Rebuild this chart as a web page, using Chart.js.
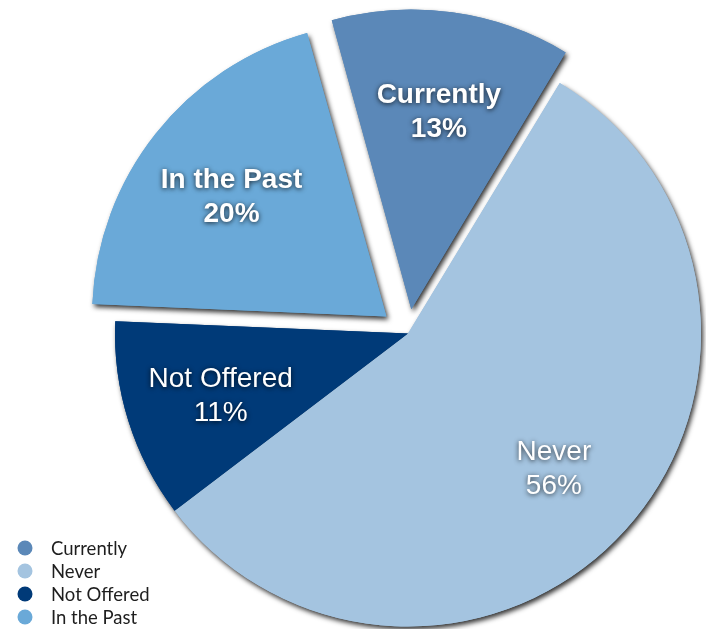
<!DOCTYPE html>
<html>
<head>
<meta charset="utf-8">
<script src="https://cdn.jsdelivr.net/npm/chart.js@4/dist/chart.umd.min.js"></script>
<style>
  html, body { margin: 0; padding: 0; background: #fff; }
  #wrap { width: 706px; height: 629px; position: relative; }
</style>
</head>
<body>
<div id="wrap"><canvas id="pie"></canvas></div>
<script>
// survey answers, clockwise from just left of 12 o'clock
const categories = ['Currently', 'Never', 'Not Offered', 'In the Past'];
const shares = [13, 56, 11, 20];

const sliceColors = ['#5b88b8', '#a4c4e0', '#003a78', '#6aa9d8'];
const pullOut = [98, 0, 0, 110];
const boldLabel = [true, false, false, true];

// same shift ArcElement.draw applies for an offset slice
function arcShift(arc) {
  const off = (arc.options.offset || 0) / 4;
  const circ = arc.endAngle - arc.startAngle;
  return off * (2 - Math.sin(Math.min(Math.PI, circ)));
}

// draw the slices once with a drop shadow; the normal pass covers the inner edges
const sliceShadow = {
  id: 'sliceShadow',
  beforeDatasetsDraw(chart) {
    const ctx = chart.ctx;
    ctx.save();
    ctx.shadowColor = 'rgba(0,0,0,0.8)';
    ctx.shadowBlur = 5;
    ctx.shadowOffsetX = 2;
    ctx.shadowOffsetY = 3;
    chart.getDatasetMeta(0).data.forEach(a => a.draw(ctx));
    ctx.restore();
  }
};

const sliceLabels = {
  id: 'sliceLabels',
  afterDatasetsDraw(chart) {
    const ctx = chart.ctx;
    const total = shares.reduce((s, v) => s + v, 0);
    chart.getDatasetMeta(0).data.forEach((arc, i) => {
      const mid = (arc.startAngle + arc.endAngle) / 2;
      const r = arcShift(arc) + arc.outerRadius * 0.67;
      const x = arc.x + Math.cos(mid) * r;
      const y = arc.y + Math.sin(mid) * r;
      ctx.save();
      ctx.font = (boldLabel[i] ? 'bold ' : '') + '28px "Liberation Sans", Arial, sans-serif';
      ctx.textAlign = 'center';
      ctx.textBaseline = 'middle';
      ctx.fillStyle = '#ffffff';
      ctx.shadowColor = 'rgba(0,0,0,0.8)';
      ctx.shadowBlur = 5;
      ctx.shadowOffsetY = 1;
      ctx.fillText(categories[i], x, y - 13);
      ctx.fillText(Math.round(shares[i] / total * 100) + '%', x, y + 21);
      ctx.restore();
    });
  }
};

const cornerLegend = {
  id: 'cornerLegend',
  afterDraw(chart) {
    const ctx = chart.ctx;
    ctx.save();
    ctx.font = '18.5px Lato, "Open Sans", sans-serif';
    ctx.textBaseline = 'middle';
    categories.forEach((name, i) => {
      const y = 548 + i * 23;
      ctx.beginPath();
      ctx.arc(25, y, 7.5, 0, Math.PI * 2);
      ctx.fillStyle = sliceColors[i];
      ctx.fill();
      ctx.fillStyle = '#1e1e1e';
      ctx.fillText(name, 51, y + 1);
    });
    ctx.restore();
  }
};

new Chart(document.getElementById('pie'), {
  type: 'pie',
  data: {
    labels: categories,
    datasets: [{
      data: shares,
      backgroundColor: sliceColors,
      offset: pullOut,
      borderWidth: 0
    }]
  },
  options: {
    responsive: true,
    maintainAspectRatio: false,
    animation: false,
    rotation: -15.6,
    radius: 293,
    layout: { padding: { left: 110, top: 38 } },
    plugins: {
      legend: { display: false },
      tooltip: { enabled: false }
    }
  },
  plugins: [sliceShadow, sliceLabels, cornerLegend]
});
</script>
</body>
</html>
